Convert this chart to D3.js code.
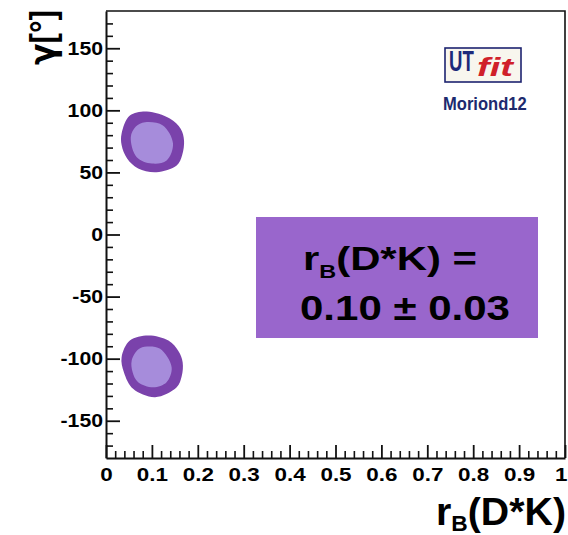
<!DOCTYPE html>
<html>
<head>
<meta charset="utf-8">
<script src="https://cdn.jsdelivr.net/npm/d3@7"></script>
<style>
  html, body { margin: 0; padding: 0; background: #ffffff; }
  svg { display: block; }
  text { font-family: "Liberation Sans", Arial, Helvetica, sans-serif; font-weight: bold; }
</style>
</head>
<body>
<svg id="chart" width="568" height="535"></svg>
<script>
// Axis ranges and tick values
const xDomain = [0, 1];
const yDomain = [-180, 180];
const xMajorTicks = [0, 0.1, 0.2, 0.3, 0.4, 0.5, 0.6, 0.7, 0.8, 0.9, 1];
const xTickLabels = ["0", "0.1", "0.2", "0.3", "0.4", "0.5", "0.6", "0.7", "0.8", "0.9", "1"];
const yMajorTicks = [-150, -100, -50, 0, 50, 100, 150];
const yTickLabels = ["-150", "-100", "-50", "0", "50", "100", "150"];

// Fit result for r_B(D*K)
const rbValue = 0.10;
const rbError = 0.03;

// 68% (inner) and 95% (outer) probability regions in (r_B, gamma[deg])
const upperOuter = [[0.052, 95.8], [0.089, 99.1], [0.139, 93.4], [0.163, 85.0], [0.170, 75.7], [0.166, 64.0],
                    [0.154, 55.6], [0.110, 50.2], [0.070, 53.2], [0.046, 61.2], [0.034, 72.0], [0.034, 81.3]];
const upperInner = [[0.054, 78.4], [0.065, 87.0], [0.085, 90.4], [0.124, 87.8], [0.146, 73.3], [0.132, 59.6],
                    [0.100, 57.2], [0.067, 62.3]];
const lowerOuter = [[0.034, -98.8], [0.052, -85.4], [0.092, -81.3], [0.136, -85.4], [0.158, -94.0], [0.167, -102.8],
                    [0.165, -114.0], [0.154, -123.0], [0.107, -131.0], [0.059, -124.3], [0.039, -110.9]];
const lowerInner = [[0.056, -101.5], [0.070, -92.6], [0.089, -90.2], [0.118, -92.1], [0.143, -106.9], [0.132, -118.9],
                    [0.103, -123.0], [0.070, -118.9], [0.058, -110.9]];

const svg = d3.select("#chart");
const x = d3.scaleLinear().domain(xDomain).range([106, 565]);
const y = d3.scaleLinear().domain(yDomain).range([458, 11]);

// soft edge for the probability regions
const defs = svg.append("defs");
defs.append("filter").attr("id", "soft").attr("x", "-20%").attr("y", "-20%").attr("width", "140%").attr("height", "140%")
  .append("feGaussianBlur").attr("stdDeviation", 0.6);

// plot frame (top and right)
svg.append("path")
  .attr("d", `M${x(0)},${y(180)}H${x(1)}V${y(-180)}`)
  .attr("fill", "none").attr("stroke", "#111").attr("stroke-width", 1.6);

// contours
const line = d3.line().x(d => x(d[0])).y(d => y(d[1])).curve(d3.curveCatmullRomClosed.alpha(0.5));
const regions = svg.append("g").attr("filter", "url(#soft)");
[[upperOuter, upperInner], [lowerOuter, lowerInner]].forEach(([outer, inner]) => {
  regions.append("path").attr("d", line(outer)).attr("fill", "#7a42ab");
  regions.append("path").attr("d", line(inner)).attr("fill", "#a68cdb");
});

const stretch = 1.18;

// y axis: minor ticks, then major ticks with labels
const yMinor = d3.range(-170, 171, 10).filter(v => v % 50 !== 0);
svg.append("g").attr("transform", `translate(${x(0)},0)`)
  .call(d3.axisLeft(y).tickValues(yMinor).tickSize(-7).tickSizeOuter(0).tickFormat(""))
  .call(g => g.select(".domain").remove())
  .call(g => g.selectAll("line").attr("stroke", "#111").attr("stroke-width", 1.6));
const yAxis = svg.append("g").attr("transform", `translate(${x(0)},0)`)
  .call(d3.axisLeft(y).tickValues(yMajorTicks).tickSize(-14).tickSizeOuter(0).tickPadding(3)
    .tickFormat((d, i) => yTickLabels[i]));
yAxis.select(".domain").attr("stroke", "#111").attr("stroke-width", 2);
yAxis.selectAll("line").attr("stroke", "#111").attr("stroke-width", 1.8);
yAxis.selectAll("text")
  .attr("font-size", 18).attr("fill", "#000")
  .attr("transform", function () { const xx = +d3.select(this).attr("x"); return `translate(${xx},0) scale(${stretch},1)`; })
  .attr("x", 0);

// x axis
const xMinor = d3.range(0, 51).map(i => i / 50).filter((v, i) => i % 5 !== 0);
svg.append("g").attr("transform", `translate(0,${y(-180)})`)
  .call(d3.axisBottom(x).tickValues(xMinor).tickSize(-7).tickSizeOuter(0).tickFormat(""))
  .call(g => g.select(".domain").remove())
  .call(g => g.selectAll("line").attr("stroke", "#111").attr("stroke-width", 1.6));
const xAxis = svg.append("g").attr("transform", `translate(0,${y(-180)})`)
  .call(d3.axisBottom(x).tickValues(xMajorTicks).tickSize(-13).tickSizeOuter(0).tickPadding(10)
    .tickFormat((d, i) => xTickLabels[i]));
xAxis.select(".domain").attr("stroke", "#111").attr("stroke-width", 2);
xAxis.selectAll("line").attr("stroke", "#111").attr("stroke-width", 1.8);
xAxis.selectAll("text")
  .attr("font-size", 19).attr("fill", "#000")
  .attr("transform", `scale(${stretch},1)`)
  .attr("x", 0);
// the last label sits at the right edge; keep it inside the canvas
xAxis.selectAll("text").filter((d, i, n) => i === n.length - 1)
  .attr("text-anchor", "end").attr("transform", `translate(2,0) scale(${stretch},1)`);

// stretch a text horizontally so it spans the given width
function fit(sel, width, tx, ty, rot) {
  const w = sel.node().getBBox().width;
  const s = width / w;
  sel.attr("transform", `translate(${tx},${ty})${rot ? ` rotate(${rot})` : ""} scale(${s},1)`);
  return sel;
}

// axis titles
const xTitle = svg.append("text").attr("text-anchor", "end").attr("font-size", 38).attr("fill", "#000");
xTitle.append("tspan").text("r");
xTitle.append("tspan").attr("font-size", 22).attr("dy", 6).text("B");
xTitle.append("tspan").attr("dy", -6).text("(D*K)");
fit(xTitle, 130, 566, 525);

const yTitle = svg.append("text").attr("text-anchor", "end").attr("font-size", 36).attr("fill", "#000");
yTitle.append("tspan").attr("font-family", "'DejaVu Sans', sans-serif").text("γ");
yTitle.append("tspan").text("[°]");
fit(yTitle, 55, 55, 10, -90);

// result box
svg.append("rect").attr("x", 256).attr("y", 217).attr("width", 282).attr("height", 121).attr("fill", "#9966cc");
const l1 = svg.append("text").attr("font-size", 34).attr("fill", "#000");
l1.append("tspan").text("r");
l1.append("tspan").attr("font-size", 19).attr("dy", 8).text("B");
l1.append("tspan").attr("dy", -8).text("(D*K) =");
fit(l1, 174, 303, 270);
const l2 = svg.append("text").attr("font-size", 35).attr("fill", "#000")
  .text(`${rbValue.toFixed(2)} ± ${rbError.toFixed(2)}`);
fit(l2, 210, 300, 320);

// UTfit logo
svg.append("rect").attr("x", 445).attr("y", 48).attr("width", 76).attr("height", 34)
  .attr("fill", "#f8f6ee").attr("stroke", "#1d2470").attr("stroke-width", 1.6);
const ut = svg.append("text").attr("font-size", 29).attr("fill", "#1d2a7a").text("UT");
fit(ut, 25, 449, 71);
const fitTxt = svg.append("text").attr("font-size", 26).attr("fill", "#d0202a")
  .attr("font-family", "'Liberation Serif', 'DejaVu Serif', serif").attr("font-style", "italic").text("fit");
fit(fitTxt, 38, 477, 76);
const mor = svg.append("text").attr("font-size", 17.5).attr("fill", "#1d2a6e").text("Moriond12");
fit(mor, 84, 443, 110);
</script>
</body>
</html>
